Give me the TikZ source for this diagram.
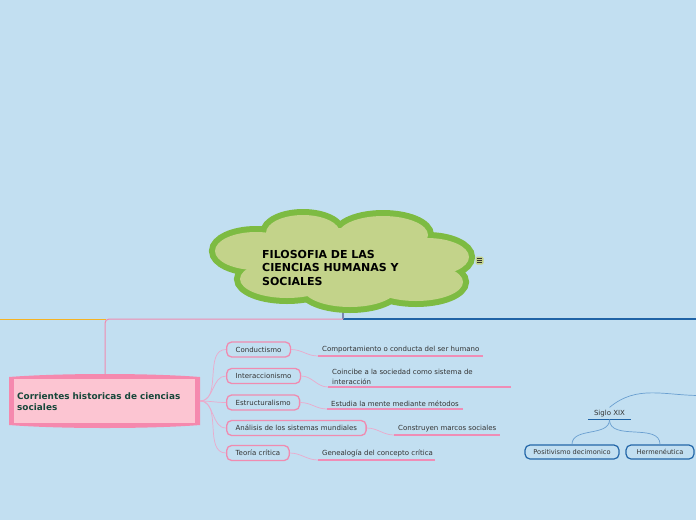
\documentclass[tikz,border=0pt]{standalone}
\usepackage{fontspec}
\setmainfont{DejaVu Sans}
\definecolor{bg}{HTML}{C2DFF1}
\definecolor{cloudfill}{HTML}{C3D38A}
\definecolor{cloudedge}{HTML}{7DBB42}
\definecolor{rootout}{HTML}{F589AE}
\definecolor{rootin}{HTML}{FCC5D2}
\definecolor{roottext}{HTML}{17473A}
\definecolor{pinkb}{HTML}{F08BB0}
\definecolor{pinkc}{HTML}{EBAACB}
\definecolor{pinku}{HTML}{EF8DB6}
\definecolor{blueb}{HTML}{2366A8}
\definecolor{bluec}{HTML}{6A9FD0}
\definecolor{bluel}{HTML}{1F63A6}
\definecolor{orangel}{HTML}{F5B324}
\definecolor{grayl}{HTML}{7A86B0}
\definecolor{txt}{HTML}{333333}
\tikzset{
  childbox/.style={draw=pinkb, line width=1.3pt, rounded corners=5pt, fill=bg,
    inner xsep=9pt, minimum height=15pt, inner ysep=0pt, font=\fontsize{7}{8}\selectfont, text=txt, anchor=west},
  leaf/.style={inner xsep=4pt, inner ysep=2.5pt, font=\fontsize{7}{10}\selectfont, text=txt, align=left, anchor=south west},
  uline/.style={pinku, line width=1.1pt},
  pconn/.style={pinkc, line width=0.7pt},
  bconn/.style={bluec, line width=0.7pt},
  bluebox/.style={draw=blueb, line width=1.2pt, rounded corners=5pt, fill=bg,
    minimum height=14pt, inner ysep=0pt, font=\fontsize{6.6}{8}\selectfont, text=txt},
}
\begin{document}
\begin{tikzpicture}[x=1pt,y=-1pt]
\useasboundingbox (0,0) rectangle (696,520);
\fill[bg] (0,0) rectangle (696,520);

% main lines
\draw[orangel, line width=1pt] (0,319) -- (106,319);
\draw[bluel, line width=1.2pt] (343,319) -- (696,319);
\coordinate (cloudbot) at (343,306);
\coordinate (hub) at (343,319);
\draw[grayl, line width=1.6pt] (cloudbot) -- (hub);

% cloud
\foreach \cx/\cy/\rx/\ry in {303/233/37/18, 383/235/45/19, 256/251/41/19, 427/257/42/19, 287/279/47/19, 350/288/47/19, 416/282/47/19, 343/260/95/32}
  \draw[cloudedge, line width=12pt] (\cx,\cy) ellipse [x radius=\rx pt, y radius=\ry pt];
\foreach \cx/\cy/\rx/\ry in {303/233/37/18, 383/235/45/19, 256/251/41/19, 427/257/42/19, 287/279/47/19, 350/288/47/19, 416/282/47/19, 343/260/95/32}
  \fill[cloudfill] (\cx,\cy) ellipse [x radius=\rx pt, y radius=\ry pt];
\node[anchor=west, align=left, font=\bfseries\fontsize{11}{13.5}\selectfont, text=black, inner sep=0pt] (title) at (262,267.5)
  {FILOSOFIA DE LAS\\CIENCIAS HUMANAS Y\\SOCIALES};
% icon
\node[fill=cloudfill, rounded corners=1.5pt, minimum size=8pt, inner sep=0pt] (icon) at (479.5,260.5) {};
\foreach \dy in {-1.8,0,1.8}
  \draw[black!80, line width=0.6pt] ([xshift=-2.3pt,yshift=\dy pt]icon.center) -- ([xshift=2.3pt,yshift=\dy pt]icon.center);

% root
\fill[rootout] (9,377) .. controls (60,373) and (150,373) .. (200,377) -- (200,425) .. controls (150,429) and (60,429) .. (9,425) -- cycle;
\fill[rootin] (14,379) rectangle (195,423);
\coordinate (rootE) at (200,401);
\node[anchor=west, align=left, text width=180pt, font=\bfseries\fontsize{8.9}{11}\selectfont, text=roottext, inner sep=0pt] (root) at (17,401.5)
  {Corrientes historicas de ciencias\\sociales};
\coordinate (rootN) at (105,376);
\draw[pinkb, line width=1pt, rounded corners=4pt] (rootN) -- (105,319) -- (hub);

% children
\node[childbox] (c1) at (226,349.5) {Conductismo};
\node[childbox] (c2) at (226,376) {Interaccionismo};
\node[childbox] (c3) at (226,402.5) {Estructuralismo};
\node[childbox] (c4) at (226,428) {Análisis de los sistemas mundiales};
\node[childbox] (c5) at (226,453) {Teoría crítica};
\foreach \c in {c1,c2,c3,c4,c5}
  \draw[pconn] (rootE) to[out=0,in=180] (\c.west);

% leaves
\node[leaf] (l1) at (318,356) {Comportamiento o conducta del ser humano};
\node[leaf] (l2) at (328,387) {Coincibe a la sociedad como sistema de\\interacción};
\node[leaf] (l3) at (327,409) {Estudia la mente mediante métodos};
\node[leaf] (l4) at (394,435) {Construyen marcos sociales};
\node[leaf] (l5) at (318,460) {Genealogía del concepto crítica};
\foreach \i/\len in {1/165,2/183,3/136,4/106,5/117}{
  \draw[uline] (l\i.south west) -- ([xshift=\len pt]l\i.south west);
  \draw[pconn] (c\i.east) to[out=0,in=180] (l\i.south west);
}

% Siglo XIX
\node[font=\fontsize{7}{8}\selectfont, text=txt, inner xsep=3pt, inner ysep=2.5pt, minimum width=43pt] (siglo) at (609.5,413.5) {Siglo XIX};
\draw[bluel, line width=1.3pt] (siglo.south west) -- (siglo.south east);
\coordinate (offright) at (700,395.5);
\draw[bconn] (siglo.north) to[out=40,in=180] (offright);
\node[bluebox, minimum width=94pt] (p1) at (572,452) {Positivismo decimonico};
\node[bluebox, minimum width=68pt] (p2) at (660,452) {Hermenéutica};
\draw[bconn] (siglo.south) to[out=-90,in=90] (p1.north);
\draw[bconn] (siglo.south) to[out=-90,in=90] (p2.north);
\end{tikzpicture}
\end{document}
